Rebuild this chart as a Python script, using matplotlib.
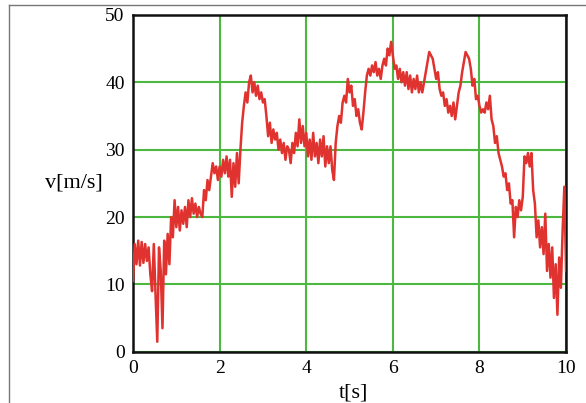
import numpy as np
import matplotlib.pyplot as plt
from matplotlib.lines import Line2D

t_step = 0.04
speed = [
    10.5, 16.0, 13.0, 16.5, 12.8, 16.3, 13.2, 16.0, 13.5, 15.5,
    11.5, 9.0, 16.0, 8.5, 1.5, 15.5, 12.0, 3.5, 16.5, 11.5,
    17.5, 13.0, 20.0, 17.0, 22.5, 18.5, 21.5, 18.0, 21.0, 19.0,
    21.5, 18.5, 22.5, 20.0, 22.8, 20.5, 22.0, 20.0, 21.5, 20.5,
    20.0, 24.0, 22.5, 25.5, 24.0, 26.0, 28.0, 26.5, 27.5, 25.5,
    27.5, 26.0, 28.5, 26.5, 29.0, 26.0, 28.5, 23.0, 28.0, 24.5,
    29.5, 25.0, 30.0, 34.0, 36.5, 38.5, 37.0, 40.0, 41.0, 38.5,
    40.0, 38.0, 39.5, 37.5, 38.5, 37.0, 37.5, 35.0, 32.0, 34.0,
    31.0, 33.0, 31.5, 32.5, 30.0, 31.5, 29.5, 31.0, 28.5, 30.5,
    30.0, 28.0, 31.0, 29.5, 32.5, 30.5, 34.5, 31.0, 33.5, 30.5,
    32.5, 29.0, 31.5, 28.5, 32.5, 29.0, 31.0, 28.0, 31.5, 29.0,
    32.0, 27.5, 30.5, 28.0, 30.5, 27.0, 25.5, 31.0, 33.5, 35.0,
    34.0, 37.0, 38.0, 37.0, 40.5, 38.5, 39.5, 36.5, 37.5, 35.0,
    36.0, 34.0, 33.0, 35.5, 38.5, 41.0, 42.0, 41.0, 42.5, 41.5,
    43.0, 41.0, 42.0, 40.5, 42.5, 43.5, 42.5, 45.0, 44.0, 46.0,
    44.0, 42.0, 42.5, 40.5, 42.0, 40.0, 41.5, 39.5, 41.5, 39.0,
    41.0, 38.5, 40.5, 39.0, 41.0, 38.5, 40.0, 38.5, 40.0, 41.5,
    43.0, 44.5, 44.0, 43.5, 42.0, 40.5, 41.5, 39.0, 38.0, 38.5,
    36.5, 37.5, 35.5, 36.5, 35.0, 37.0, 34.5, 36.5, 38.5, 39.5,
    41.5, 43.0, 44.5, 44.0, 43.5, 42.0, 39.5, 40.5, 37.5, 38.0,
    36.5, 35.5, 36.0, 35.5, 37.0, 36.0, 38.0, 34.5, 33.5, 31.0,
    32.0, 29.5, 28.5, 27.5, 26.0, 26.5, 24.0, 25.0, 22.0, 22.5,
    17.0, 21.5, 20.0, 22.5, 21.0, 23.0, 29.0, 28.0, 29.5, 27.5,
    29.5, 24.0, 22.0, 17.0, 19.5, 15.5, 18.5, 14.5, 20.5, 12.0,
    16.0, 11.0, 15.5, 8.0, 13.0, 5.5, 14.0, 9.5, 18.0, 24.5,
    12.0,
]
t = np.arange(len(speed)) * t_step

x_ticks = [0, 2, 4, 6, 8, 10]
y_ticks = [0, 10, 20, 30, 40, 50]

plt.rcParams['font.family'] = ['Liberation Serif', 'DejaVu Serif']

fig = plt.figure(figsize=(5.86, 4.03), dpi=100)
ax = fig.add_axes([0.227, 0.127, 0.739, 0.836])

ax.plot(t, speed, color='#e0322e', linewidth=1.8, zorder=3)

ax.set_xlim(0, 10)
ax.set_ylim(0, 50)
ax.set_xticks(x_ticks)
ax.set_yticks(y_ticks)
ax.grid(True, color='#4cb840', linewidth=1.5, zorder=1)
ax.set_axisbelow(True)
ax.tick_params(length=0, labelsize=14, pad=6)
for s in ax.spines.values():
    s.set_linewidth(1.8)
    s.set_color('#111111')

ax.text(-0.07, 0.5, 'v[m/s]', transform=ax.transAxes, ha='right', va='center', fontsize=16)
ax.text(0.51, -0.095, 't[s]', transform=ax.transAxes, ha='center', va='top', fontsize=16)

# thin gray frame around the figure (top and left edges)
fig.add_artist(Line2D([9 / 586, 1], [1 - 5 / 403] * 2, color='#777777', linewidth=1.0))
fig.add_artist(Line2D([9 / 586] * 2, [0, 1 - 5 / 403], color='#777777', linewidth=1.0))

fig.savefig('out.png', dpi=100)
